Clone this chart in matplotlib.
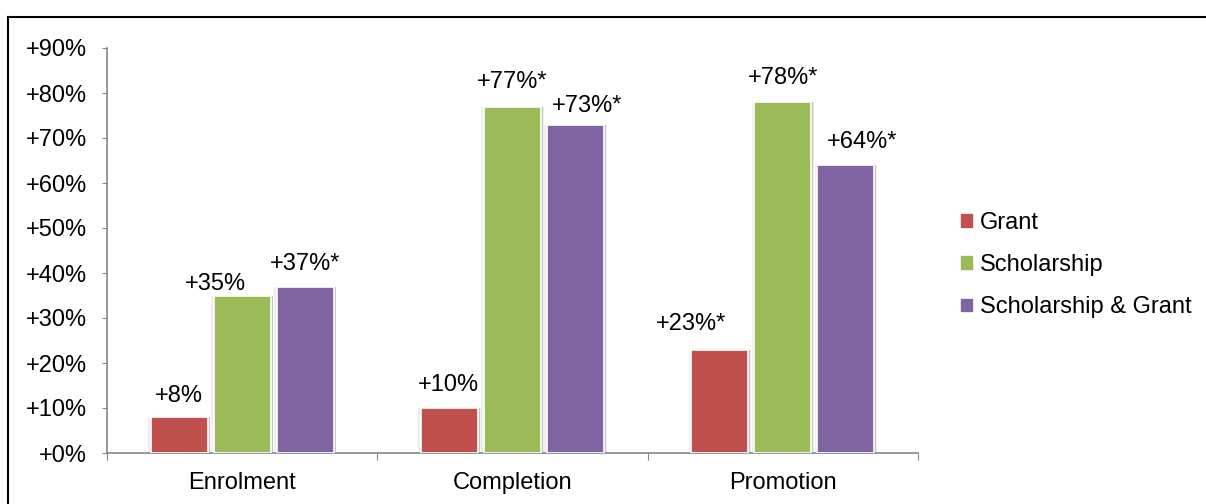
import numpy as np
import matplotlib.pyplot as plt
from matplotlib.lines import Line2D
from matplotlib.transforms import offset_copy

plt.rcParams['font.family'] = ['Liberation Sans', 'DejaVu Sans']

categories = ['Enrolment', 'Completion', 'Promotion']
series_names = ['Grant', 'Scholarship', 'Scholarship & Grant']
grant = [8, 10, 23]
scholarship = [35, 77, 78]
both = [37, 73, 64]
labels_grant = ['+8%', '+10%', '+23%*']
labels_scholarship = ['+35%', '+77%*', '+78%*']
labels_both = ['+37%*', '+73%*', '+64%*']
yticks = list(range(0, 91, 10))
ytick_labels = ['+%d%%' % v for v in yticks]

colors = ['#C0504D', '#9BBB59', '#8064A2']
# label placement nudges in pixels (Excel moved some labels sideways)
label_dx = [[0, -1, -29], [-27, 0, 0], [0, 12, 16]]
label_gap = [[15, 17, 20], [5.5, 19, 18], [16.5, 12, 17]]

fig = plt.figure(figsize=(12.06, 5.04), dpi=100)
ax = fig.add_axes([107 / 1206, 51 / 504, (918 - 107) / 1206, (453 - 48) / 504])

x = np.arange(len(categories))
width = 0.21
step = 0.233
all_vals = [grant, scholarship, both]
all_labels = [labels_grant, labels_scholarship, labels_both]
for i, (vals, labs) in enumerate(zip(all_vals, all_labels)):
    pos = x + (i - 1) * step
    # soft glow + right-side shadow behind each bar
    ax.bar(pos, vals, width=width + 0.02, color='#efefef', zorder=1)
    ax.bar(pos + 0.008, vals, width=width, color='#c4c4c4', zorder=2)
    ax.bar(pos, vals, width=width, color=colors[i], edgecolor='white',
           linewidth=1.2, label=series_names[i], zorder=3)
    for j, (p, v, t) in enumerate(zip(pos, vals, labs)):
        tr = offset_copy(ax.transData, fig=fig, x=label_dx[i][j], y=label_gap[i][j], units='dots')
        ax.text(p, v, t, ha='center', va='baseline', fontsize=17, transform=tr, zorder=4)

ax.set_xlim(-0.5, 2.5)
ax.set_ylim(0, 90)
ax.set_yticks(yticks)
ax.set_yticklabels(ytick_labels, fontsize=17)
ax.set_xticks([-0.5, 0.5, 1.5, 2.5])
ax.set_xticklabels([])
ax.set_xticks(x, minor=True)
ax.set_xticklabels(categories, minor=True, fontsize=17)
ax.tick_params(axis='x', which='minor', length=0, pad=14)
ax.tick_params(axis='x', which='major', length=5, color='#868686', direction='out')
ax.tick_params(axis='y', length=3.6, color='#868686', direction='out', pad=11)
for s in ['top', 'right']:
    ax.spines[s].set_visible(False)
for s in ['left', 'bottom']:
    ax.spines[s].set_color('#868686')
    ax.spines[s].set_linewidth(1.2)

handles = [plt.Rectangle((0, 0), 1, 1, color=c) for c in colors]
fig.legend(handles, series_names, loc='center left', bbox_to_anchor=(954 / 1206, 1 - 265 / 504),
           frameon=False, fontsize=17, handlelength=0.45, handleheight=0.45,
           handletextpad=0.35, labelspacing=0.86, borderaxespad=0, borderpad=0.3)

# outer frame (only top and left edges visible in the crop)
fig.add_artist(Line2D([8 / 1206, 1.0], [1 - 17 / 504, 1 - 17 / 504], color='black', linewidth=1.5,
                      transform=fig.transFigure))
fig.add_artist(Line2D([8 / 1206, 8 / 1206], [0, 1 - 17 / 504], color='black', linewidth=1.5,
                      transform=fig.transFigure))

fig.savefig('out.png', dpi=100)
